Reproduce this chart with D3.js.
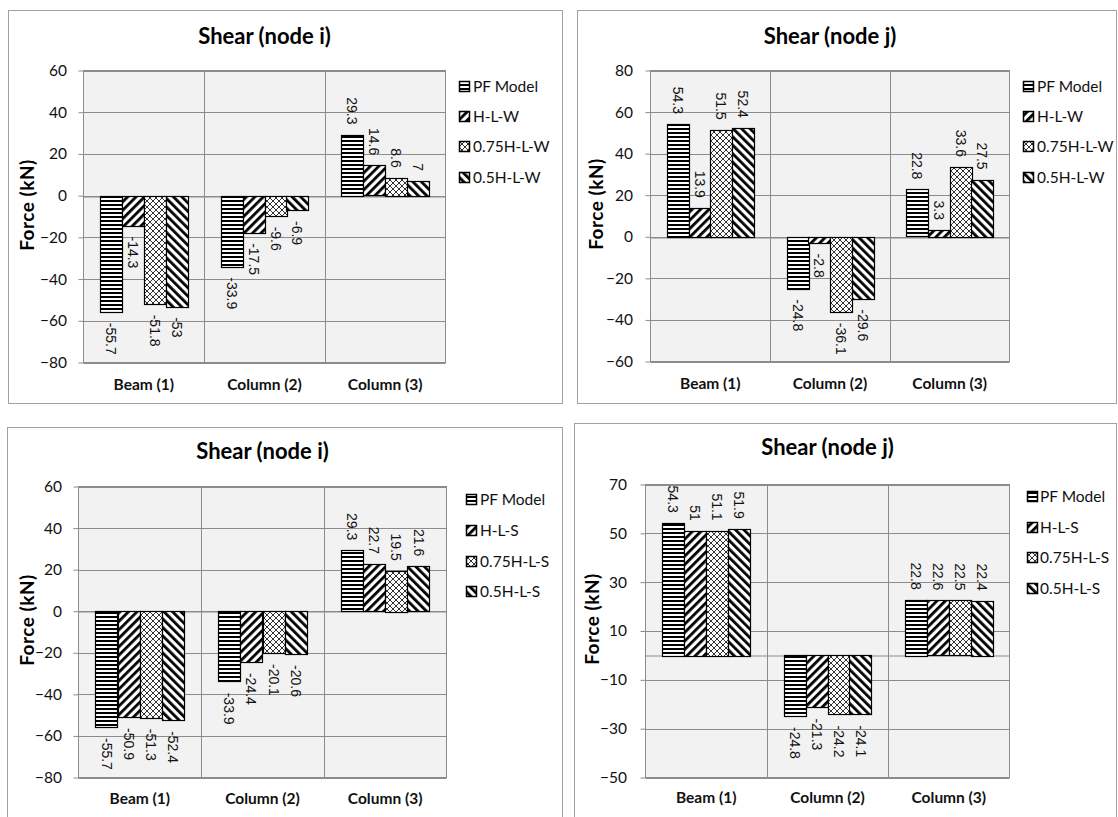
<!DOCTYPE html>
<html>
<head>
<meta charset="utf-8">
<script src="https://cdn.jsdelivr.net/npm/d3@7"></script>
<style>
  body { margin: 0; background: #fff; }
  svg { display: block; }
</style>
</head>
<body>
<svg id="chart" width="1118" height="817"></svg>
<script>
// Element groups along the horizontal axis
const categories = ["Beam (1)", "Column (2)", "Column (3)"];

// Series names (infill wall models and strut models)
const seriesWall = ["PF Model", "H-L-W", "0.75H-L-W", "0.5H-L-W"];
const seriesStrut = ["PF Model", "H-L-S", "0.75H-L-S", "0.5H-L-S"];

// Shear forces (kN): one row per series, one value per category
const shearIWall = [
  [-55.7, -33.9, 29.3],
  [-14.3, -17.5, 14.6],
  [-51.8, -9.6, 8.6],
  [-53, -6.9, 7]
];
const shearJWall = [
  [54.3, -24.8, 22.8],
  [13.9, -2.8, 3.3],
  [51.5, -36.1, 33.6],
  [52.4, -29.6, 27.5]
];
const shearIStrut = [
  [-55.7, -33.9, 29.3],
  [-50.9, -24.4, 22.7],
  [-51.3, -20.1, 19.5],
  [-52.4, -20.6, 21.6]
];
const shearJStrut = [
  [54.3, -24.8, 22.8],
  [51, -21.3, 22.6],
  [51.1, -24.2, 22.5],
  [51.9, -24.1, 22.4]
];

// Value-axis ticks
const ticksI = [60, 40, 20, 0, -20, -40, -60, -80];
const ticksJWall = [80, 60, 40, 20, 0, -20, -40, -60];
const ticksJStrut = [70, 50, 30, 10, -10, -30, -50];

const titleI = "Shear (node i)";
const titleJ = "Shear (node j)";
const yTitle = "Force (kN)";

const svg = d3.select("#chart");
const defs = svg.append("defs");

// Fill patterns, one per series position
function addPatterns() {
  const h = defs.append("pattern").attr("id", "pat0")
    .attr("patternUnits", "userSpaceOnUse").attr("width", 4).attr("height", 4);
  h.append("rect").attr("width", 4).attr("height", 4).attr("fill", "#fff");
  h.append("rect").attr("y", 0).attr("width", 4).attr("height", 2).attr("fill", "#000");

  const f = defs.append("pattern").attr("id", "pat1")
    .attr("patternUnits", "userSpaceOnUse").attr("width", 6).attr("height", 6)
    .attr("patternTransform", "rotate(45)");
  f.append("rect").attr("width", 6).attr("height", 6).attr("fill", "#fff");
  f.append("rect").attr("width", 2.8).attr("height", 6).attr("fill", "#000");

  const c = defs.append("pattern").attr("id", "pat2")
    .attr("patternUnits", "userSpaceOnUse").attr("width", 6).attr("height", 6);
  c.append("rect").attr("width", 6).attr("height", 6).attr("fill", "#fff");
  c.append("path").attr("d", "M-1,-1L7,7M7,-1L-1,7")
    .attr("stroke", "#333").attr("stroke-width", 1).attr("fill", "none");

  const b = defs.append("pattern").attr("id", "pat3")
    .attr("patternUnits", "userSpaceOnUse").attr("width", 6).attr("height", 6)
    .attr("patternTransform", "rotate(-45)");
  b.append("rect").attr("width", 6).attr("height", 6).attr("fill", "#fff");
  b.append("rect").attr("width", 2.8).attr("height", 6).attr("fill", "#000");
}
addPatterns();

const panels = [
  { values: shearIWall, series: seriesWall, ticks: ticksI, title: titleI,
    frame: [8.5, 10.5, 554, 393], plot: [83.5, 70.5, 445.5, 362.5],
    tickRight: 67, yTitlePos: [27, 205], titleBase: 44, catBase: 390,
    legend: { sx: 459, tx: 473, ys: [87, 117, 147, 178] } },
  { values: shearJWall, series: seriesWall, ticks: ticksJWall, title: titleJ,
    frame: [577.5, 10.5, 539, 393], plot: [650.5, 70.5, 1009.5, 361.5],
    tickRight: 633, yTitlePos: [596, 204], titleBase: 44, catBase: 389,
    legend: { sx: 1023, tx: 1037, ys: [87, 117, 147, 178] } },
  { values: shearIStrut, series: seriesStrut, ticks: ticksI, title: titleI,
    frame: [7.5, 427.5, 555, 400], plot: [78.5, 486.5, 446.5, 777.5],
    tickRight: 62, yTitlePos: [27, 620], titleBase: 459, catBase: 804,
    legend: { sx: 466, tx: 480, ys: [500, 531, 562, 592] } },
  { values: shearJStrut, series: seriesStrut, ticks: ticksJStrut, title: titleJ,
    frame: [574.5, 423.5, 542, 400], plot: [645.5, 484.5, 1009.5, 777.5],
    tickRight: 627, yTitlePos: [592, 619], titleBase: 455, catBase: 803,
    legend: { sx: 1027, tx: 1040, ys: [497, 528, 558, 589] } }
];

const gridColor = "#8c8c8c";
const uiFont = "Lato, 'Open Sans', sans-serif";
const labelFont = "'Liberation Sans', Arial, sans-serif";

panels.forEach(p => {
  const g = svg.append("g");
  const [fx, fy, fw, fh] = p.frame;
  const [l, t, r, b] = p.plot;

  // chart frame
  g.append("rect").attr("x", fx).attr("y", fy).attr("width", fw).attr("height", fh)
    .attr("fill", "#fff").attr("stroke", "#a0a0a0").attr("stroke-width", 1);

  const y = d3.scaleLinear()
    .domain([d3.min(p.ticks), d3.max(p.ticks)])
    .range([b, t]);
  const x0 = d3.scaleBand().domain(categories).range([l, r]).padding(0);
  const pad = x0.bandwidth() * 0.138;
  const x1 = d3.scaleBand().domain(p.series).range([pad, x0.bandwidth() - pad]).padding(0);

  // plot area
  g.append("rect").attr("x", l).attr("y", t).attr("width", r - l).attr("height", b - t)
    .attr("fill", "#f2f2f2");

  // horizontal gridlines
  g.append("g").selectAll("line").data(p.ticks).join("line")
    .attr("x1", l).attr("x2", r)
    .attr("y1", d => Math.round(y(d)) + 0.5).attr("y2", d => Math.round(y(d)) + 0.5)
    .attr("stroke", gridColor).attr("stroke-width", 1);

  // vertical gridlines between categories
  g.append("g").selectAll("line").data(categories.slice(1)).join("line")
    .attr("x1", d => Math.round(x0(d)) + 0.5).attr("x2", d => Math.round(x0(d)) + 0.5)
    .attr("y1", t).attr("y2", b)
    .attr("stroke", gridColor).attr("stroke-width", 1);

  // plot border
  g.append("rect").attr("x", l).attr("y", t).attr("width", r - l).attr("height", b - t)
    .attr("fill", "none").attr("stroke", gridColor).attr("stroke-width", 1);

  // value axis
  const yAxis = d3.axisLeft(y).tickValues(p.ticks).tickSize(5)
    .tickPadding(l - 5 - p.tickRight).tickFormat(d3.format("d"));
  const ya = g.append("g").attr("transform", `translate(${l},0)`).call(yAxis);
  ya.select(".domain").remove();
  ya.selectAll(".tick line").attr("stroke", gridColor);
  ya.selectAll(".tick text").attr("font-family", uiFont).attr("font-size", 15.5)
    .attr("fill", "#111");

  // category axis along zero
  const xAxis = d3.axisBottom(x0).tickSize(0).tickFormat("");
  const xa = g.append("g").attr("transform", `translate(0,${Math.round(y(0)) + 0.5})`).call(xAxis);
  xa.select(".domain").attr("stroke", gridColor);

  // category labels at the bottom
  g.append("g").selectAll("text").data(categories).join("text")
    .attr("x", d => x0(d) + x0.bandwidth() / 2)
    .attr("y", p.catBase)
    .attr("text-anchor", "middle")
    .attr("font-family", uiFont).attr("font-size", 15.5).attr("font-weight", "bold")
    .attr("fill", "#111")
    .text(d => d);

  // bars
  const rows = [];
  p.series.forEach((s, si) => {
    categories.forEach((c, ci) => rows.push({ s, si, c, v: p.values[si][ci] }));
  });

  g.append("g").selectAll("rect").data(rows).join("rect")
    .attr("x", d => Math.round(x0(d.c) + x1(d.s)) + 0.5)
    .attr("width", Math.round(x1.bandwidth()))
    .attr("y", d => Math.round(y(Math.max(0, d.v))) + 0.5)
    .attr("height", d => Math.max(1, Math.round(Math.abs(y(d.v) - y(0)))))
    .attr("fill", d => `url(#pat${d.si})`)
    .attr("stroke", "#000").attr("stroke-width", 1.2);

  // value labels, rotated to read downwards
  g.append("g").selectAll("text").data(rows).join("text")
    .attr("transform", d => {
      const cx = x0(d.c) + x1(d.s) + x1.bandwidth() / 2;
      const cy = d.v >= 0 ? y(d.v) - 10 : y(d.v) + 11;
      return `translate(${cx},${cy}) rotate(90)`;
    })
    .attr("text-anchor", d => d.v >= 0 ? "end" : "start")
    .attr("dy", "0.35em")
    .attr("font-family", labelFont).attr("font-size", 14)
    .attr("fill", "#111")
    .text(d => d.v);

  // titles
  g.append("text").attr("x", (l + r) / 2).attr("y", p.titleBase)
    .attr("text-anchor", "middle")
    .attr("font-family", uiFont).attr("font-size", 22).attr("font-weight", "bold")
    .attr("fill", "#000").text(p.title);

  g.append("text")
    .attr("transform", `translate(${p.yTitlePos[0]},${p.yTitlePos[1]}) rotate(-90)`)
    .attr("text-anchor", "middle").attr("dy", "0.35em")
    .attr("font-family", uiFont).attr("font-size", 19).attr("font-weight", "bold")
    .attr("letter-spacing", 0.5)
    .attr("fill", "#000").text(yTitle);

  // legend
  const lg = g.append("g");
  p.series.forEach((s, si) => {
    const ly = p.legend.ys[si];
    lg.append("rect").attr("x", p.legend.sx + 0.5).attr("y", ly - 5.5)
      .attr("width", 10).attr("height", 10)
      .attr("fill", `url(#pat${si})`).attr("stroke", "#000").attr("stroke-width", 1.5);
    lg.append("text").attr("x", p.legend.tx).attr("y", ly).attr("dy", "0.35em")
      .attr("font-family", uiFont).attr("font-size", 15.5).attr("fill", "#111").text(s);
  });
});
</script>
</body>
</html>
